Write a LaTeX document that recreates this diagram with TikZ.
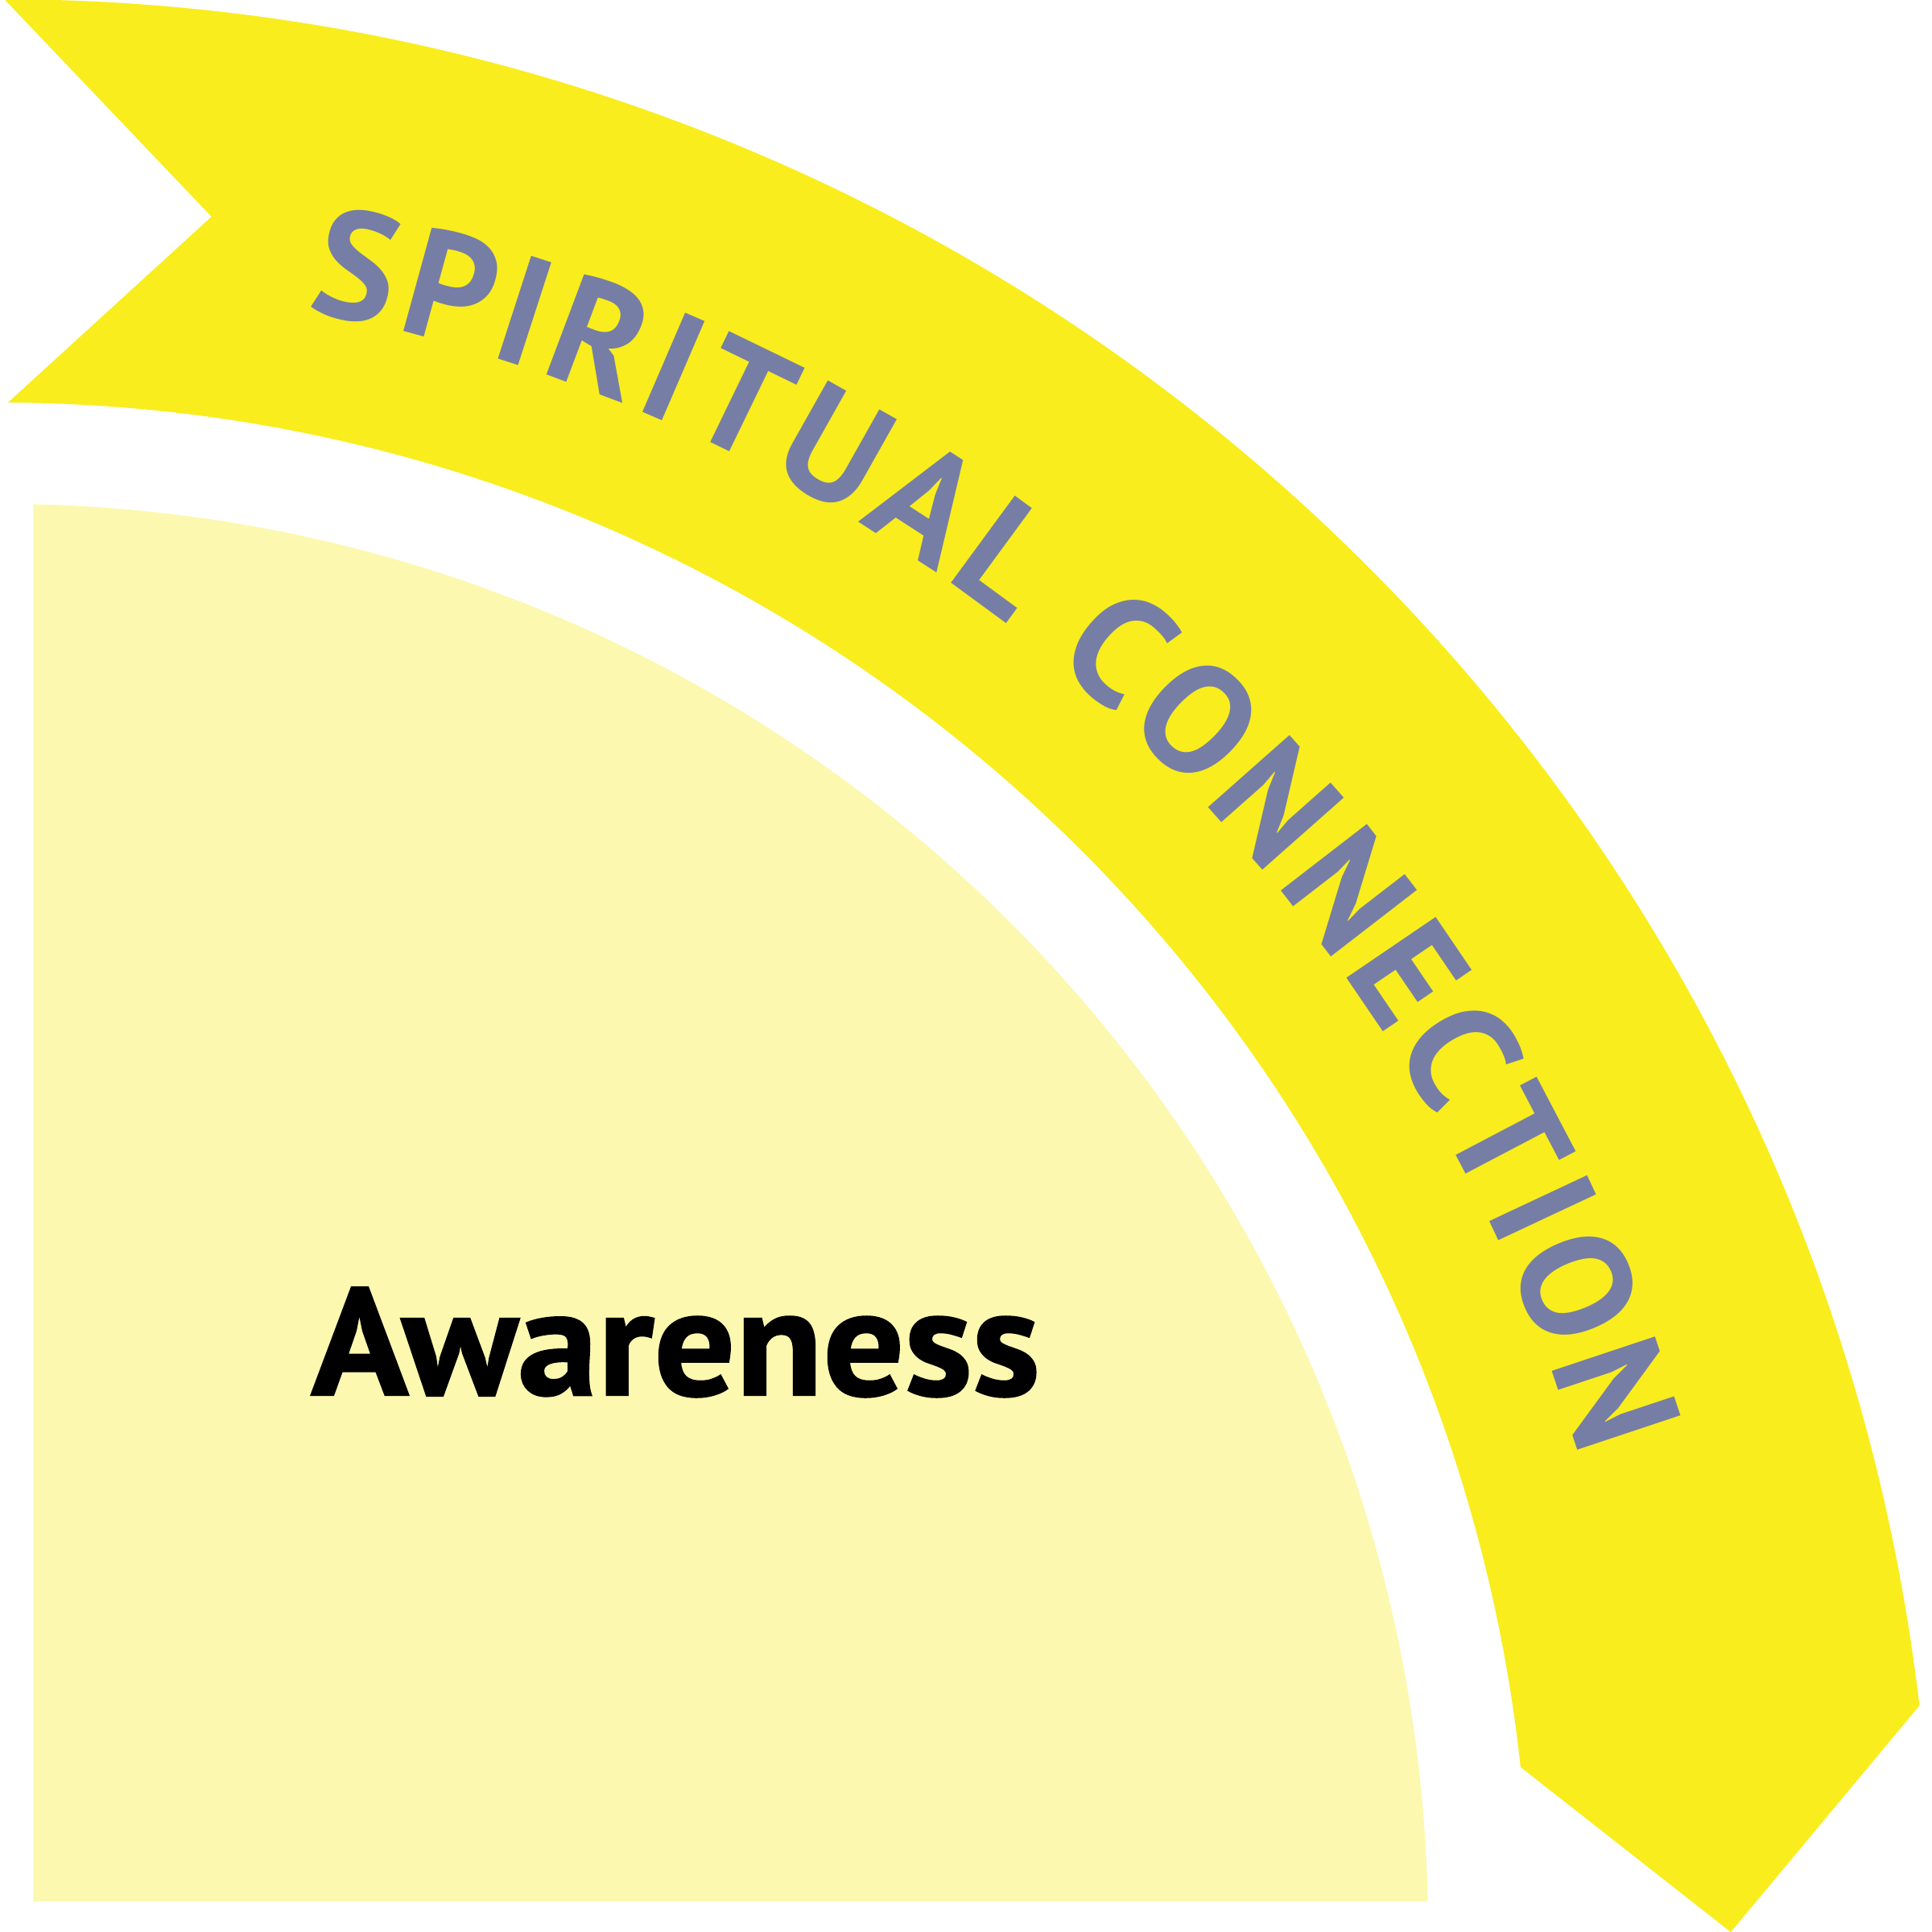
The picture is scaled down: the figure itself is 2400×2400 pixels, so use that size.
\documentclass[tikz,border=0pt]{standalone}
\usepackage{fontspec}
\setmainfont{PT Sans}
\newfontfamily\arcfont{PT Sans Bold}
\newfontfamily\labelfont[FakeBold=1.2]{PT Sans Bold}
\usetikzlibrary{decorations.text}
\definecolor{ribbon}{HTML}{F9ED1D}
\definecolor{pale}{HTML}{FCF8AF}
\definecolor{arctext}{HTML}{767EA6}
\tikzset{
  ribbonfill/.style={fill=ribbon},
  palefill/.style={fill=pale},
  labeltext/.style={anchor=base west, inner sep=0pt, font=\labelfont\fontsize{54}{60}\selectfont}
}
\begin{document}
\begin{tikzpicture}[x=0.01cm,y=0.01cm]
\useasboundingbox (0,0) rectangle (2400,2400);
% pale quarter disc
\begin{scope}
  \clip (41.3,38.3) rectangle (2400,2400);
  \path[palefill] (0,0) -- (0:1774) arc[start angle=0, end angle=90, radius=1774] -- cycle;
\end{scope}
% ribbon
\path[ribbonfill] (89.87:2401) arc[start angle=89.87, end angle=6.73, radius=2401]
  -- (0:2150) -- (6.19:1900) arc[start angle=6.19, end angle=89.7, radius=1900]
  -- (82.97:2147) -- cycle;
% text along ribbon
\path[decorate, decoration={text along path,
   text={|\arcfont\fontsize{54.5}{60}\selectfont|SPIRITUAL CONNECTION},
   text color=arctext, text align={fit to path}}]
  (79.3:2050) arc[start angle=79.3, end angle=16.7, radius=2050];
\node[labeltext] (aw) at (386,667) {\scalebox{1.05}[1]{Awareness}};
\end{tikzpicture}
\end{document}
